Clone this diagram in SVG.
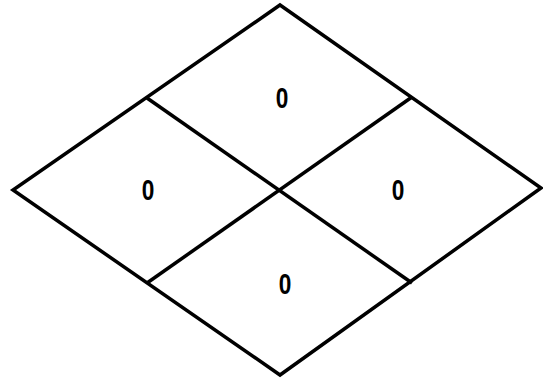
<svg xmlns="http://www.w3.org/2000/svg" width="543" height="380" viewBox="0 0 543 380">
<style>
.ln{stroke:#000;stroke-width:3.5;fill:none;stroke-linejoin:miter}
.lb{font-family:"Liberation Sans",Arial,sans-serif;font-weight:bold;font-size:29px;fill:#000;text-anchor:middle}
</style>
<rect width="543" height="380" fill="#fff"/>
<g id="connectors">
<polygon class="ln" points="280,5 541,188 280,375 13,190"/>
<line class="ln" x1="147" y1="98" x2="412" y2="283"/>
<line class="ln" x1="412" y1="97" x2="147" y2="283"/>
</g>
<g id="top"><text class="lb" transform="translate(282 108) scale(0.78 1)">0</text></g>
<g id="left"><text class="lb" transform="translate(148 200) scale(0.78 1)">0</text></g>
<g id="right"><text class="lb" transform="translate(398 200) scale(0.78 1)">0</text></g>
<g id="bottom"><text class="lb" transform="translate(285 294) scale(0.78 1)">0</text></g>
</svg>
